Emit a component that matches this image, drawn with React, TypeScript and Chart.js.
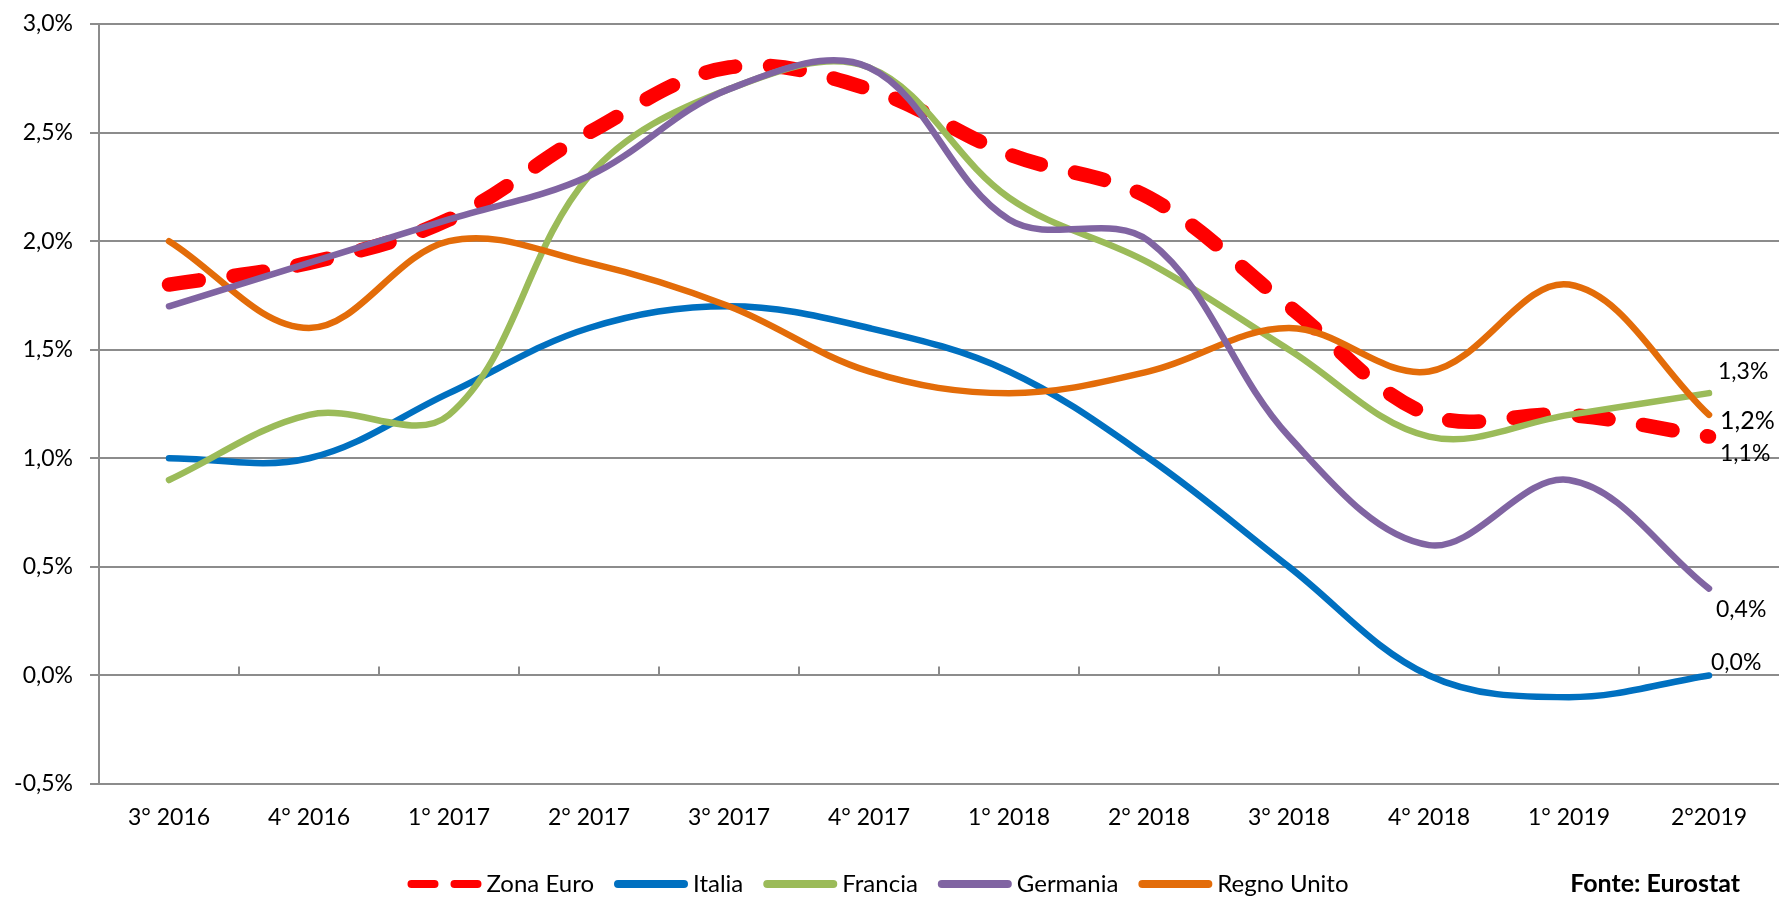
import React, { useEffect, useRef } from 'react';
import { Chart, registerables } from 'chart.js';

Chart.register(...registerables);

// ---------- data ----------
const categories = ['3° 2016', '4° 2016', '1° 2017', '2° 2017', '3° 2017', '4° 2017', '1° 2018', '2° 2018', '3° 2018', '4° 2018', '1° 2019', '2°2019'];
const zonaEuro = [1.8, 1.9, 2.1, 2.5, 2.8, 2.7, 2.4, 2.2, 1.7, 1.2, 1.2, 1.1];
const italia = [1.0, 1.0, 1.3, 1.6, 1.7, 1.6, 1.4, 1.0, 0.5, 0.0, -0.1, 0.0];
const francia = [0.9, 1.2, 1.2, 2.3, 2.7, 2.8, 2.2, 1.9, 1.5, 1.1, 1.2, 1.3];
const germania = [1.7, 1.9, 2.1, 2.3, 2.7, 2.8, 2.1, 2.0, 1.1, 0.6, 0.9, 0.4];
const regnoUnito = [2.0, 1.6, 2.0, 1.9, 1.7, 1.4, 1.3, 1.4, 1.6, 1.4, 1.8, 1.2];
const seriesNames = ['Zona Euro', 'Italia', 'Francia', 'Germania', 'Regno Unito'];
const yMin = -0.5;
const yMax = 3.0;
const yStep = 0.5;
const sourceNote = 'Fonte: Eurostat';

// ---------- styles ----------
const FAMILY = 'Lato, "Open Sans", "DejaVu Sans", sans-serif';
const GRID = '#8c8c8c';
const colors = ['#FF0000', '#0070C0', '#9BBB59', '#8064A2', '#E36C09'];
const widths = [14.5, 6.5, 6.5, 6.5, 6.5];
const dashes: number[][] = [[30, 35], [], [], [], []];
const drawOrder = [5, 4, 3, 1, 2];
// end-label offsets relative to last point (dx to text left, dy to text middle)
const labelOffsets = [
  [11, 17],
  [2, -13],
  [9, -22],
  [7, 21],
  [11, 6],
];
const labelSizes = [23, 23, 23, 23, 25];

const fmt = (v: number) => {
  const r = Math.round(v * 10) / 10;
  return (Object.is(r, -0) ? 0 : r).toFixed(1).replace('.', ',') + '%';
};

const extrasPlugin = {
  id: 'extras',
  beforeDatasetsDraw(chart: any) {
    const ctx = chart.ctx;
    const xs = chart.scales.x;
    const ys = chart.scales.y;
    const y0 = ys.getPixelForValue(0);
    ctx.save();
    ctx.strokeStyle = GRID;
    ctx.lineWidth = 2;
    for (let i = 1; i < categories.length; i++) {
      const x = Math.round((xs.getPixelForValue(i - 1) + xs.getPixelForValue(i)) / 2);
      ctx.beginPath();
      ctx.moveTo(x, y0 - 9);
      ctx.lineTo(x, y0);
      ctx.stroke();
    }
    ctx.restore();
  },
  afterDraw(chart: any) {
    const ctx = chart.ctx;
    ctx.save();
    // end labels
    chart.data.datasets.forEach((ds: any, i: number) => {
      const meta = chart.getDatasetMeta(i);
      const last = meta.data[meta.data.length - 1];
      const v = ds.data[ds.data.length - 1];
      ctx.font = `${labelSizes[i]}px ${FAMILY}`;
      ctx.fillStyle = '#000';
      ctx.textAlign = 'left';
      ctx.textBaseline = 'middle';
      ctx.fillText(fmt(v), last.x + labelOffsets[i][0], last.y + labelOffsets[i][1]);
    });

    // legend
    const ly = 884;
    const lineVis = 74;
    const textGap = 5;
    const itemGap = 20;
    ctx.font = `24px ${FAMILY}`;
    const tw = seriesNames.map((n) => ctx.measureText(n).width);
    const total = tw.reduce((a, w) => a + lineVis + textGap + w, 0) + itemGap * (seriesNames.length - 1);
    let x = 878 - total / 2;
    seriesNames.forEach((name, i) => {
      ctx.lineCap = 'round';
      ctx.strokeStyle = colors[i];
      ctx.lineWidth = 8;
      if (i === 0) {
        ctx.beginPath();
        ctx.moveTo(x + 4, ly);
        ctx.lineTo(x + 27, ly);
        ctx.moveTo(x + 47, ly);
        ctx.lineTo(x + 70, ly);
        ctx.stroke();
      } else {
        ctx.beginPath();
        ctx.moveTo(x + 4, ly);
        ctx.lineTo(x + lineVis - 4, ly);
        ctx.stroke();
      }
      x += lineVis + textGap;
      ctx.fillStyle = '#000';
      ctx.textAlign = 'left';
      ctx.textBaseline = 'middle';
      ctx.fillText(name, x, ly);
      x += tw[i] + itemGap;
    });

    ctx.font = `bold 25px ${FAMILY}`;
    ctx.textAlign = 'right';
    ctx.fillText(sourceNote, 1740, ly);
    ctx.restore();
  },
};

export default function App() {
  const ref = useRef<HTMLCanvasElement | null>(null);
  useEffect(() => {
    if (!ref.current) return;
    const series = [zonaEuro, italia, francia, germania, regnoUnito];
    const chart = new Chart(ref.current, {
      type: 'line',
      data: {
        labels: categories,
        datasets: series.map((d, i) => ({
          label: seriesNames[i],
          data: d,
          borderColor: colors[i],
          backgroundColor: colors[i],
          borderWidth: widths[i],
          borderDash: dashes[i],
          borderCapStyle: 'round',
          borderJoinStyle: 'round',
          pointRadius: 0,
          pointHoverRadius: 0,
          tension: 0.36,
          fill: false,
          order: drawOrder[i],
        })),
      },
      options: {
        responsive: false,
        animation: false,
        layout: { padding: { left: 0, right: 1, top: 24, bottom: 0 } },
        plugins: {
          legend: { display: false },
          tooltip: { enabled: false },
        },
        scales: {
          x: {
            type: 'category',
            offset: true,
            grid: { display: false, drawTicks: false },
            border: { display: false },
            ticks: {
              color: '#000',
              font: { family: FAMILY, size: 23 },
              padding: 20,
              maxRotation: 0,
              autoSkip: false,
            },
            afterFit: (s: any) => {
              s.height = 115;
              s.paddingLeft = 0;
              s.paddingRight = 0;
            },
          },
          y: {
            min: yMin,
            max: yMax,
            ticks: {
              stepSize: yStep,
              color: '#000',
              font: { family: FAMILY, size: 23 },
              padding: 17,
              callback: (v: any) => fmt(Number(v)),
            },
            grid: { color: GRID, lineWidth: 2, tickLength: 9, drawTicks: true },
            border: { display: true, color: GRID, width: 2 },
            afterFit: (s: any) => {
              s.width = 99;
              s.paddingTop = 0;
              s.paddingBottom = 0;
            },
          },
        },
      } as any,
      plugins: [extrasPlugin],
    });
    return () => chart.destroy();
  }, []);

  return (
    <div style={{ position: 'absolute', left: 0, top: 0, width: 1780, height: 899, background: '#fff' }}>
      <canvas ref={ref} width={1780} height={899} style={{ display: 'block' }} />
    </div>
  );
}
